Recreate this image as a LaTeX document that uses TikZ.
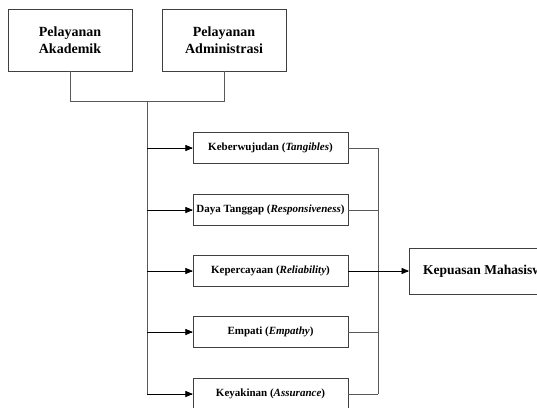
\documentclass[tikz,border=0pt]{standalone}
\usepackage{fontspec}
\setmainfont{Liberation Serif}
\usetikzlibrary{arrows}

\begin{document}
\begin{tikzpicture}[x=1pt,y=-1pt,
  topbox/.style={draw=black!75, align=center, font=\fontsize{14}{17}\selectfont\bfseries, minimum width=124, minimum height=62},
  dimbox/.style={draw=black!75, align=center, font=\fontsize{11}{13}\selectfont\bfseries, minimum width=155, minimum height=31},
  line/.style={draw=black!65, line width=0.8pt},
  arr/.style={draw=black, line width=0.7pt, arrows={- triangle 45}}]

\clip (0,0) rectangle (537,407);

\node[topbox] (akd) at (70,40) {Pelayanan\\Akademik};
\node[topbox] (adm) at (224,40) {Pelayanan\\Administrasi};

\node[dimbox] (tang) at (270.5,148) {Keberwujudan (\textit{Tangibles})};
\node[dimbox] (resp) at (270.5,210) {Daya Tanggap (\textit{Responsiveness})};
\node[dimbox] (reli) at (270.5,271) {Kepercayaan (\textit{Reliability})};
\node[dimbox] (empa) at (270.5,332) {Empati (\textit{Empathy})};
\node[dimbox] (assu) at (270.5,394) {Keyakinan (\textit{Assurance})};

\node[draw=black!75, anchor=west, inner xsep=14pt, minimum height=46,
  font=\fontsize{13.5}{16}\selectfont\bfseries] (kep) at (409,271) {Kepuasan Mahasiswa};

\coordinate (jn) at (147,101);
\coordinate (rj) at (378,148);

% top connectors
\draw[line] (akd.south) |- (jn);
\draw[line] (adm.south) |- (jn);

% trunk and arrows to dimensions
\draw[line] (jn) -- (jn |- assu.west);
\draw[arr] (jn |- tang.west) -- (tang.west);
\draw[arr] (jn |- resp.west) -- (resp.west);
\draw[arr] (jn |- reli.west) -- (reli.west);
\draw[arr] (jn |- empa.west) -- (empa.west);
\draw[arr] (jn |- assu.west) -- (assu.west);

% right side
\draw[line] (tang.east) -- (tang.east -| rj);
\draw[line] (resp.east) -- (resp.east -| rj);
\draw[line] (empa.east) -- (empa.east -| rj);
\draw[line] (assu.east) -- (assu.east -| rj);
\draw[line] (rj) -- (rj |- assu.east);
\draw[arr] (reli.east) -- (kep.west);

\end{tikzpicture}
\end{document}
